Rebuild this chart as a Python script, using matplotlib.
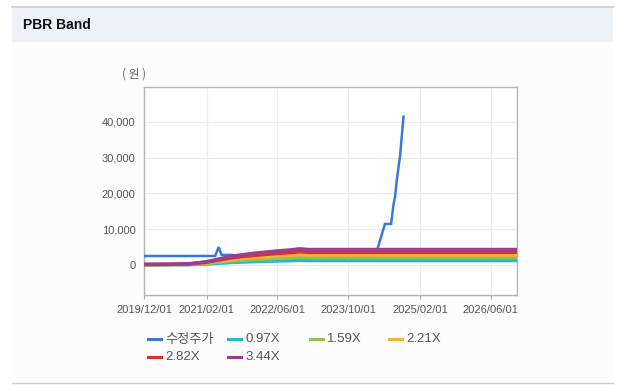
import matplotlib
matplotlib.use("Agg")
import matplotlib.pyplot as plt
import matplotlib.dates as mdates
from matplotlib.lines import Line2D
from matplotlib.patches import Rectangle
import numpy as np

# ---------------- data ----------------
price_dates = ["2019-12-01", "2021-04-01", "2021-04-25", "2021-05-15", "2021-08-01",
               "2021-09-01", "2022-03-01", "2022-08-01", "2022-10-01", "2023-01-01",
               "2023-06-01", "2023-09-01", "2024-03-15", "2024-04-18", "2024-06-07",
               "2024-07-19", "2024-08-04", "2024-08-15", "2024-08-27", "2024-09-19",
               "2024-09-28", "2024-10-12"]
price_values = [2500, 2500, 5000, 2800, 2800,
                2000, 1800, 1500, 1400, 1500,
                1800, 2300, 2800, 4660, 11450,
                11450, 16760, 19000, 23740, 30700,
                35000, 41420]

band_dates = ["2019-12-01", "2020-06-01", "2020-10-01", "2021-02-01", "2021-05-01",
              "2021-08-01", "2022-01-01", "2022-06-01", "2022-09-01", "2022-11-01",
              "2023-01-01", "2026-11-28"]
band_097 = [40, 55, 85, 250, 480, 700, 930, 1100, 1180, 1270, 1210, 1210]
band_159 = [70, 90, 140, 420, 790, 1150, 1520, 1800, 1940, 2080, 1990, 1990]
band_221 = [95, 130, 190, 580, 1090, 1600, 2120, 2500, 2700, 2890, 2760, 2760]
band_282 = [120, 165, 245, 740, 1390, 2050, 2710, 3200, 3440, 3690, 3530, 3530]
band_344 = [150, 200, 300, 900, 1700, 2500, 3300, 3900, 4200, 4500, 4300, 4300]

series_names = ["수정주가", "0.97X", "1.59X", "2.21X", "2.82X", "3.44X"]
series_colors = ["#3b78d8", "#25b9c9", "#8cc25a", "#f5b13d", "#df2f2b", "#9a3e92"]

xtick_dates = ["2019-12-01", "2021-02-01", "2022-06-01", "2023-10-01", "2025-02-01", "2026-06-01"]
xtick_labels = ["2019/12/01", "2021/02/01", "2022/06/01", "2023/10/01", "2025/02/01", "2026/06/01"]
ytick_values = [0, 10000, 20000, 30000, 40000]
ytick_labels = ["0", "10,000", "20,000", "30,000", "40,000"]

# ---------------- figure ----------------
W, H = 622, 390
fig = plt.figure(figsize=(W / 100, H / 100), dpi=100)
fig.patch.set_facecolor("white")

def px_rect(x0, y0, x1, y1, **kw):
    fig.add_artist(Rectangle((x0 / W, 1 - y1 / H), (x1 - x0) / W, (y1 - y0) / H,
                             transform=fig.transFigure, **kw))

# panel background + header
px_rect(12, 42, 613, 383, facecolor="#fcfcfc", edgecolor="none", zorder=0)
px_rect(12, 6, 613, 42, facecolor="#eef2f7", edgecolor="none", zorder=0)
fig.add_artist(Line2D([12 / W, 613 / W], [1 - 6.5 / H, 1 - 6.5 / H], color="#cfcfcf", lw=1.2,
                      transform=fig.transFigure))
fig.add_artist(Line2D([12 / W, 613 / W], [1 - 382.5 / H, 1 - 382.5 / H], color="#cfcfcf", lw=1.0,
                      transform=fig.transFigure))
fig.text(23 / W, 1 - 25 / H, "PBR Band", fontsize=10, fontweight="bold",
         family=["Liberation Sans", "DejaVu Sans"], color="#111111", va="center", ha="left")

# axes
ax_l, ax_r, ax_t, ax_b = 144, 517, 87, 295
ax = fig.add_axes([ax_l / W, 1 - ax_b / H, (ax_r - ax_l) / W, (ax_b - ax_t) / H])
ax.set_facecolor("white")

pd_ = [np.datetime64(d) for d in price_dates]
bd_ = [np.datetime64(d) for d in band_dates]

ax.plot(pd_, price_values, color=series_colors[0], lw=1.8, zorder=3, solid_joinstyle="miter")
for vals, col in zip([band_097, band_159, band_221, band_282, band_344], series_colors[1:]):
    ax.plot(bd_, vals, color=col, lw=2.5, zorder=4)

ax.set_xlim(np.datetime64("2019-12-01"), np.datetime64("2026-11-28"))
ax.set_ylim(-8400, 49700)

ax.set_xticks([mdates.date2num(np.datetime64(d)) for d in xtick_dates])
ax.set_xticklabels(xtick_labels)
ax.set_yticks(ytick_values)
ax.set_yticklabels(ytick_labels)

for lab in ax.get_xticklabels() + ax.get_yticklabels():
    lab.set_family(["Liberation Sans", "DejaVu Sans"])
    lab.set_fontsize(8)
    lab.set_color("#555555")
ax.tick_params(axis="x", length=3, width=0.8, color="#b0b0b0", pad=4)
ax.tick_params(axis="y", length=0, pad=6)

ax.grid(True, color="#ebebeb", lw=0.9, zorder=0)
ax.set_axisbelow(True)
for s in ax.spines.values():
    s.set_color("#b5b5b5")
    s.set_linewidth(1.0)

fig.text(122 / W, 1 - 74 / H, "( 원 )", fontsize=8.5, color="#666666",
         family=["Noto Sans CJK KR", "DejaVu Sans"], va="center", ha="left")

# legend (fixed-width columns like the original)
leg_pos = [(148, 339), (228, 339), (310, 339), (389, 339), (148, 357), (228, 357)]
for (lx, ly), name, col in zip(leg_pos, series_names, series_colors):
    fig.add_artist(Line2D([lx / W, (lx + 13) / W], [1 - ly / H, 1 - ly / H], color=col, lw=2.2,
                          transform=fig.transFigure))
    fig.text((lx + 17) / W, 1 - ly / H, name, fontsize=9.5, color="#555555",
             family=["Noto Sans CJK KR", "Liberation Sans", "DejaVu Sans"] if name == series_names[0]
             else ["Liberation Sans", "DejaVu Sans"], va="center", ha="left")

fig.savefig("out.png", dpi=100, facecolor=fig.get_facecolor())
